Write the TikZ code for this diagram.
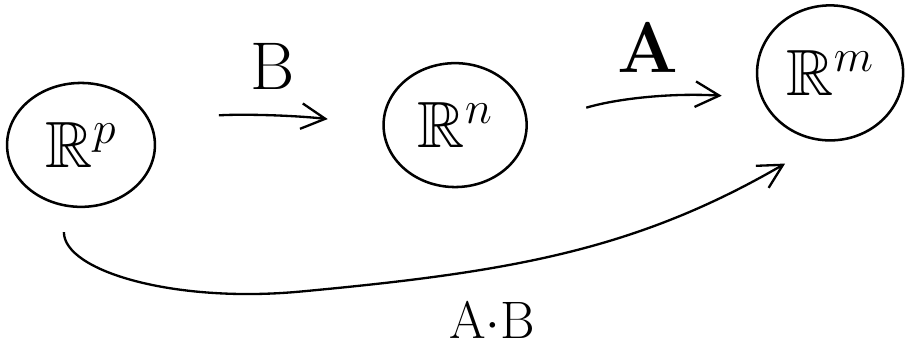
\RequirePackage{fix-cm}
\documentclass[tikz,border=0pt]{standalone}
\usepackage{amssymb}
\usetikzlibrary{shapes.geometric,arrows.meta}

\tikzset{
  space/.style={draw, ellipse, line width=2.4pt, inner sep=0pt, font=\fontsize{62}{64}\selectfont},
  map/.style={line width=2.2pt, -{Straight Barb[length=0.8cm, width=0.85cm, line width=2.2pt]}},
  maplabel/.style={font=\fontsize{64}{66}\selectfont}
}

\begin{document}
\begin{tikzpicture}
\useasboundingbox (0,0) rectangle (30.2,-11.67);
% spaces
\node[space, minimum width=4.93cm, minimum height=4.13cm] (rp) at (2.7,-4.83) {$\mathbb{R}^p$};
\node[space, minimum width=4.77cm, minimum height=4.13cm] (rn) at (15.17,-4.17) {$\mathbb{R}^n$};
\node[space, minimum width=4.87cm, minimum height=4.5cm] (rm) at (27.67,-2.43) {$\mathbb{R}^m$};
% maps
\draw[map, shorten <=2.3cm, shorten >=1.83cm] (rp.20) to[bend left=5] (rn.west);
\node[maplabel] (lb) at (9.07,-2.2) {B};
\draw[map, shorten <=2.03cm, shorten >=1.31cm] (rn.east) to[bend left=10] (rm.200);
\node[maplabel, font=\fontsize{68}{70}\selectfont\bfseries] (la) at (21.6,-1.57) {A};
% composite
\coordinate (low) at (10,-9.72);
\draw[map] ([shift={(-0.57,-0.8)}]rp.south) .. controls +(0,-1.3) and +(-4.2,-0.39) .. (low)
  .. controls +(7,0.65) and +(-5,-2.9) .. ([shift={(-1.5,-0.73)}]rm.south);
\node[maplabel, font=\fontsize{50}{52}\selectfont] (lab) at (16.4,-10.65) {A$\cdot$B};
\end{tikzpicture}
\end{document}
